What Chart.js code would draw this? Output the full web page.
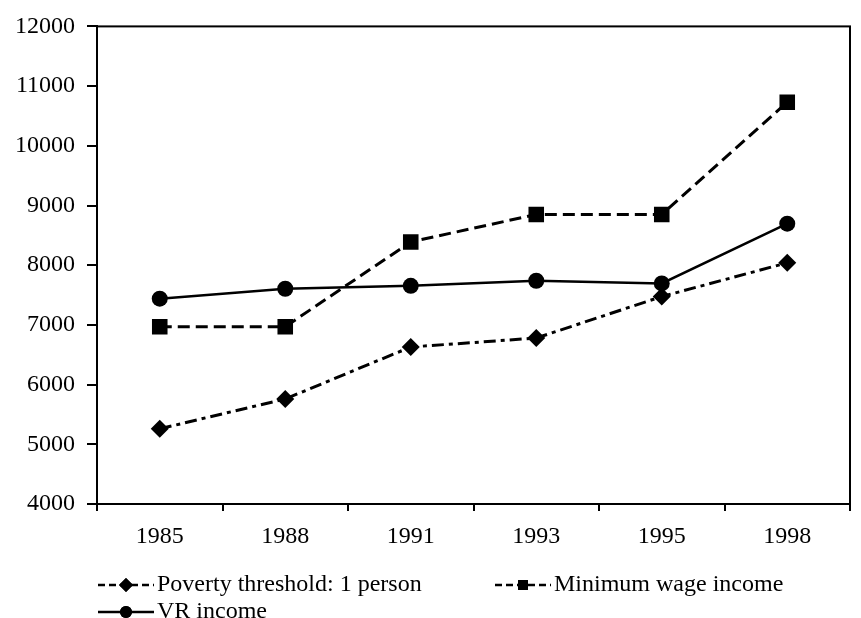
<!DOCTYPE html>
<html>
<head>
<meta charset="utf-8">
<script src="https://cdn.jsdelivr.net/npm/chart.js@4"></script>
<style>
  body { margin: 0; background: #fff; }
  #wrap { width: 861px; height: 618px; }
</style>
</head>
<body>
<div id="wrap"><canvas id="incomeChart" width="861" height="618"></canvas></div>
<script>
const years = ["1985", "1988", "1991", "1993", "1995", "1998"];
const povertyThreshold = [5260, 5760, 6630, 6780, 7475, 8040];
const minimumWage = [6970, 6970, 8390, 8850, 8850, 10730];
const vrIncome = [7440, 7605, 7655, 7740, 7695, 8695];
const yTicks = { min: 4000, max: 12000, step: 1000 };

const FONT = "'Liberation Serif', 'Times New Roman', serif";

// legend drawn by hand so the line samples show dash + marker like the original
const legendSpots = [
    { x: 98, y: 585, dash: [7, 4], r: 7 },
    { x: 495, y: 585, dash: [7, 4], r: 7 },
    { x: 98, y: 612, dash: [], r: 6 }
];

const boxAndLegend = {
    id: "boxAndLegend",
    afterDraw(chart) {
        const c = chart.ctx;
        const a = chart.chartArea;
        c.save();
        c.strokeStyle = "#000";
        c.lineWidth = 2;
        c.strokeRect(a.left, a.top, a.right - a.left, a.bottom - a.top);

        chart.data.datasets.forEach((ds, i) => {
            const s = legendSpots[i];
            c.strokeStyle = "#000";
            c.lineWidth = 2.5;
            c.setLineDash(s.dash);
            c.beginPath();
            c.moveTo(s.x, s.y);
            c.lineTo(s.x + 56, s.y);
            c.stroke();
            c.setLineDash([]);
            Chart.helpers.drawPoint(c, { pointStyle: ds.pointStyle, radius: s.r, borderWidth: 0 }, s.x + 28, s.y);
            c.fillStyle = "#000";
            c.fill();
            c.font = "24px " + FONT;
            c.textBaseline = "middle";
            c.textAlign = "left";
            c.fillText(ds.label, s.x + 59, s.y);
        });
        c.restore();
    }
};

const ctx = document.getElementById("incomeChart").getContext("2d");

new Chart(ctx, {
    type: "line",
    data: {
        labels: years,
        datasets: [
            {
                label: "Poverty threshold: 1 person",
                data: povertyThreshold,
                borderColor: "#000",
                borderWidth: 3,
                borderDash: [12, 5, 4, 5],
                pointStyle: "rectRot",
                pointRadius: 9,
                pointBackgroundColor: "#000",
                pointBorderWidth: 0,
                tension: 0
            },
            {
                label: "Minimum wage income",
                data: minimumWage,
                borderColor: "#000",
                borderWidth: 3,
                borderDash: [12, 6],
                pointStyle: "rect",
                pointRadius: 11,
                pointBackgroundColor: "#000",
                pointBorderWidth: 0,
                tension: 0
            },
            {
                label: "VR income",
                data: vrIncome,
                borderColor: "#000",
                borderWidth: 2.5,
                pointStyle: "circle",
                pointRadius: 8,
                pointBackgroundColor: "#000",
                pointBorderWidth: 0,
                tension: 0
            }
        ]
    },
    options: {
        responsive: false,
        animation: false,
        layout: { padding: { top: 23, right: 8, left: 0, bottom: 64 } },
        plugins: {
            legend: { display: false },
            tooltip: { enabled: false }
        },
        scales: {
            x: {
                offset: true,
                grid: { offset: true, drawOnChartArea: false, color: "#000", lineWidth: 2, tickLength: 7 },
                border: { color: "#000", width: 2 },
                ticks: { color: "#000", font: { family: FONT, size: 24 }, padding: 11, maxRotation: 0 },
                afterFit(scale) { scale.height = 50; }
            },
            y: {
                min: yTicks.min,
                max: yTicks.max,
                grid: { drawOnChartArea: false, color: "#000", lineWidth: 2, tickLength: 10 },
                border: { color: "#000", width: 2 },
                ticks: {
                    stepSize: yTicks.step,
                    color: "#000",
                    font: { family: FONT, size: 24 },
                    padding: 12,
                    callback: (v) => String(v)
                },
                afterFit(scale) { scale.width = 97; }
            }
        }
    },
    plugins: [boxAndLegend]
});
</script>
</body>
</html>
